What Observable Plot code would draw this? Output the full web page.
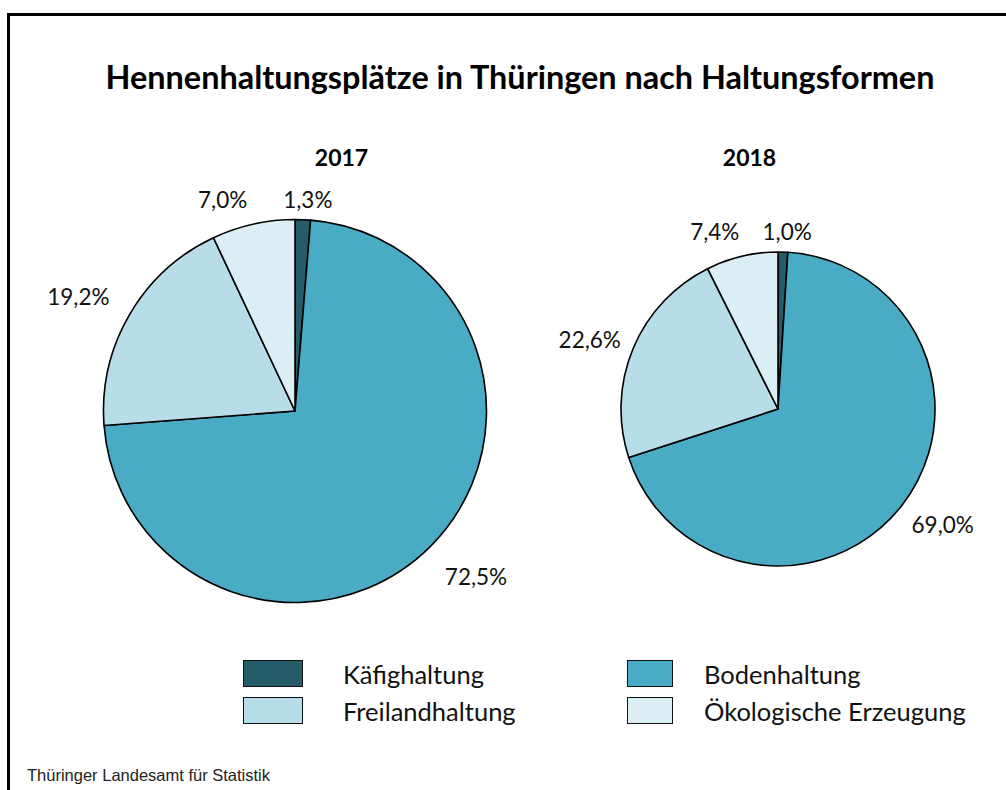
<!DOCTYPE html>
<html>
<head>
<meta charset="utf-8">
<script src="https://cdn.jsdelivr.net/npm/d3@7"></script>
<script src="https://cdn.jsdelivr.net/npm/@observablehq/plot@0.6"></script>
<style>
  html, body { margin: 0; padding: 0; background: #fff; }
  #chart { position: relative; width: 1006px; height: 790px; overflow: hidden; font-family: Lato, "Open Sans", sans-serif; color: #111; }
  #frame { position: absolute; left: 7px; top: 13px; width: 1100px; height: 900px; border-left: 3px solid #000; border-top: 3px solid #000; }
  #title { position: absolute; left: 520px; top: 76px; transform: translate(-50%, -50%); white-space: nowrap; font-weight: bold; font-size: 32.4px; color: #000; }
  #plot { position: absolute; left: 0; top: 130px; }
  .lg-box { position: absolute; box-sizing: border-box; border: 1.6px solid #111; }
  .lg-text { position: absolute; transform: translateY(-50%); white-space: nowrap; font-size: 25.5px; color: #111; }
  #caption { position: absolute; left: 27px; top: 775px; transform: translateY(-50%); font-family: "Liberation Sans", Arial, sans-serif; font-size: 16.5px; color: #222; white-space: nowrap; }
</style>
</head>
<body>
<div id="chart">
  <div id="frame"></div>
  <div id="title"></div>
  <div id="plot"></div>
  <div id="legend"></div>
  <div id="caption"></div>
</div>
<script>
// ---------- data ----------
const titleText = "Hennenhaltungsplätze in Thüringen nach Haltungsformen";
const captionText = "Thüringer Landesamt für Statistik";
const years = ["2017", "2018"];
const categories = ["Käfighaltung", "Bodenhaltung", "Freilandhaltung", "Ökologische Erzeugung"];
const shares2017 = [1.3, 72.5, 19.2, 7.0];
const shares2018 = [1.0, 69.0, 22.6, 7.4];
const colors = ["#245c6a", "#4aabc5", "#b7dde8", "#daeef3"];

// ---------- layout (pixels inside the plot svg) ----------
const W = 1006, H = 510;
const pies = {
  "2017": {cx: 295, cy: 281, r: 191.5, titleX: 341},
  "2018": {cx: 778, cy: 279, r: 157, titleX: 749}
};
const yearTitleY = 28;

const sharesByYear = {"2017": shares2017, "2018": shares2018};
const pie = d3.pie().sort(null).value(d => d.value);
const rows = years.flatMap(y =>
  pie(categories.map((c, i) => ({year: y, category: c, value: sharesByYear[y][i]})))
    .map(a => ({...a.data, startAngle: a.startAngle, endAngle: a.endAngle}))
);

const deg = Math.PI / 180;
function labelPos(d) {
  const p = pies[d.year];
  let ang = (d.startAngle + d.endAngle) / 2;
  let dist;
  if (d.value >= 10) {
    dist = p.r * 1.28; ang -= 2.6 * deg;
  } else if (ang < Math.PI) {
    dist = p.r + 20; ang += 1 * deg;
  } else {
    dist = p.r + 31; ang -= 6.5 * deg;
  }
  return [p.cx + dist * Math.sin(ang), p.cy - dist * Math.cos(ang)];
}
const fmt = v => v.toFixed(1).replace(".", ",") + "%";

document.getElementById("title").textContent = titleText;
document.getElementById("caption").textContent = captionText;

const chart = Plot.plot({
  width: W,
  height: H,
  margin: 0,
  x: {type: "identity", axis: null},
  y: {type: "identity", axis: null},
  color: {domain: categories, range: colors},
  style: {fontFamily: "Lato, 'Open Sans', sans-serif", background: "transparent", overflow: "visible"},
  marks: [
    Plot.dot(rows, {
      x: d => pies[d.year].cx,
      y: d => pies[d.year].cy,
      fill: "category",
      render(index, scales, values) {
        const g = d3.create("svg:g");
        for (const i of index) {
          const d = rows[i];
          const arc = d3.arc().innerRadius(0).outerRadius(pies[d.year].r);
          g.append("path")
            .attr("d", arc({startAngle: d.startAngle, endAngle: d.endAngle}))
            .attr("transform", `translate(${values.x[i]},${values.y[i]})`)
            .attr("fill", values.fill[i])
            .attr("stroke", "#000")
            .attr("stroke-width", 1.6)
            .attr("stroke-linejoin", "round");
        }
        return g.node();
      }
    }),
    Plot.text(rows, {
      x: d => labelPos(d)[0],
      y: d => labelPos(d)[1],
      text: d => fmt(d.value),
      fontSize: 22.5,
      fill: "#111"
    }),
    Plot.text(years, {
      x: d => pies[d].titleX,
      y: yearTitleY,
      text: d => d,
      fontSize: 23,
      fontWeight: "bold",
      fill: "#000"
    })
  ]
});
document.getElementById("plot").appendChild(chart);

// legend (HTML, uses the chart's color scale)
const color = chart.scale("color");
const legendSlots = [
  {box: [243, 660, 60, 27], textX: 343},
  {box: [627, 660, 46, 27], textX: 704},
  {box: [243, 697, 60, 27], textX: 343},
  {box: [627, 697, 46, 27], textX: 704}
];
const legend = document.getElementById("legend");
categories.forEach((c, i) => {
  const s = legendSlots[i];
  const b = document.createElement("div");
  b.className = "lg-box";
  Object.assign(b.style, {left: s.box[0] + "px", top: s.box[1] + "px", width: s.box[2] + "px", height: s.box[3] + "px", background: color.range[color.domain.indexOf(c)]});
  legend.appendChild(b);
  const t = document.createElement("div");
  t.className = "lg-text";
  t.textContent = c;
  Object.assign(t.style, {left: s.textX + "px", top: (s.box[1] + s.box[3] / 2) + "px"});
  legend.appendChild(t);
});
</script>
</body>
</html>
